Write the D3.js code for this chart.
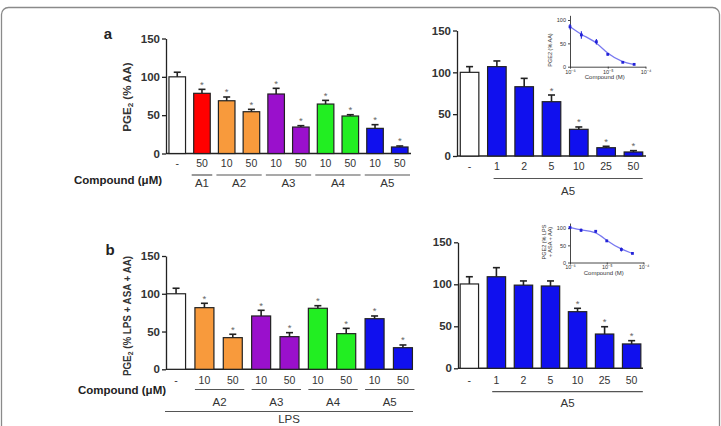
<!DOCTYPE html>
<html>
<head>
<meta charset="utf-8">
<script src="https://cdn.jsdelivr.net/npm/d3@7"></script>
<style>
	body { margin: 0; background: #fff; }
	svg { display: block; font-family: "Liberation Sans", Arial, sans-serif; }
</style>
</head>
<body>
<div id="graphic-wrapper"></div>
<script>
/* global d3 */
const WIDTH = 721
const HEIGHT = 426

// panel a, left: compounds at 10 / 50 uM
const aDoses = ["-", "50", "10", "50", "10", "50", "10", "50", "10", "50"]
const aCompounds = ["ctrl", "A1", "A2", "A2", "A3", "A3", "A4", "A4", "A5", "A5"]
const aValues = [100, 78.5, 68.8, 54.5, 77.6, 34.5, 64.5, 48.9, 32.8, 8.5]
const aErrors = [6, 5.2, 4.9, 3.1, 7.4, 1.8, 4.8, 1.7, 4.8, 1.3]
const aStars = [0, 1, 1, 1, 1, 1, 1, 1, 1, 1]
const aGroups = ["A1", "A2", "A3", "A4", "A5"]

// panel a, right: A5 dose response
const a5Doses = ["-", "1", "2", "5", "10", "25", "50"]
const a5Values = [100, 106.8, 82.8, 64.9, 31.9, 9.9, 4.8]
const a5Errors = [6.8, 6.8, 10, 8, 2.8, 1.7, 1.6]
const a5Stars = [0, 0, 0, 1, 1, 1, 1]

// panel b, left: LPS stimulated
const bDoses = ["-", "10", "50", "10", "50", "10", "50", "10", "50"]
const bCompounds = ["ctrl", "A2", "A2", "A3", "A3", "A4", "A4", "A5", "A5"]
const bValues = [100, 81.6, 41.9, 70.6, 43.2, 80.8, 47.2, 67, 28.6]
const bErrors = [7.3, 5.8, 4.5, 7.5, 5.3, 3.4, 7, 3.6, 3.6]
const bStars = [0, 1, 1, 1, 1, 1, 1, 1, 1]
const bGroups = ["A2", "A3", "A4", "A5"]

// panel b, right: A5 dose response with LPS
const b5Values = [100.4, 109, 99, 98, 67.4, 40.8, 29]
const b5Errors = [8.6, 10.8, 5, 6, 4, 8.7, 3.9]
const b5Stars = [0, 0, 0, 0, 1, 1, 1]

// insets: concentration (M) vs % PGE2
const insetConc = [1e-6, 2e-6, 5e-6, 1e-5, 2.5e-5, 5e-5]
const insetAValues = [85.6, 68, 53.5, 26.5, 9.4, 5]
const insetAErrors = [6, 8, 6, 2.5, 1.5, 1]
const insetBValues = [102, 94, 91, 63, 38, 26.5]
const insetBErrors = [4, 5, 4, 3, 6, 2]
const insetXTicks = [1e-6, 1e-5, 1e-4]
const insetXTickLabels = ["10⁻⁶", "10⁻⁵", "10⁻⁴"]

const colorOf = {
	ctrl: "#ffffff",
	A1: "#ff0000",
	A2: "#f89a3c",
	A3: "#9a10cc",
	A4: "#22ee22",
	A5: "#1010ee",
}

const svg = d3.select("#graphic-wrapper")
	.append("svg")
		.attr("width", WIDTH)
		.attr("height", HEIGHT)

// frame
svg.append("rect")
	.attr("x", 1.5).attr("y", 7.5)
	.attr("width", WIDTH - 3).attr("height", HEIGHT + 20)
	.attr("rx", 7)
	.attr("fill", "none")
	.attr("stroke", "#8a8a8a")
	.attr("stroke-width", 1.3)

function drawBars(cfg) {
	const g = svg.append("g")
	const x = d3.scaleBand()
		.domain(d3.range(cfg.values.length))
		.range([cfg.x0, cfg.x1])
		.paddingInner(cfg.padInner)
		.paddingOuter(cfg.padOuter)
	const y = d3.scaleLinear()
		.domain([0, 150])
		.range([cfg.yBottom, cfg.yTop])

	const yAxis = g.append("g")
		.attr("transform", `translate(${cfg.x0},0)`)
		.call(d3.axisLeft(y).tickValues([0, 50, 100, 150]).tickSize(4).tickSizeOuter(0).tickPadding(2))
	yAxis.selectAll("path, line").attr("stroke", "#222").attr("stroke-width", 1.3)
	yAxis.selectAll("text")
		.attr("font-size", 11.5).attr("font-weight", "bold").attr("fill", "#333")

	// x axis baseline
	g.append("line")
		.attr("x1", cfg.x0).attr("x2", cfg.x1)
		.attr("y1", y(0)).attr("y2", y(0))
		.attr("stroke", "#222").attr("stroke-width", 1.4)

	const bw = x.bandwidth()
	g.selectAll(".bar")
		.data(cfg.values)
		.join("rect")
			.attr("class", "bar")
			.attr("x", (d, i) => x(i))
			.attr("y", d => y(d))
			.attr("width", bw)
			.attr("height", d => y(0) - y(d))
			.attr("fill", (d, i) => colorOf[cfg.colors[i]])
			.attr("stroke", "#222")
			.attr("stroke-width", 1.2)

	// error bars, upper half only
	cfg.values.forEach((v, i) => {
		const cx = x(i) + bw / 2
		const top = y(v + cfg.errors[i])
		g.append("line")
			.attr("x1", cx).attr("x2", cx)
			.attr("y1", y(v)).attr("y2", top)
			.attr("stroke", "#222").attr("stroke-width", 1.6)
		g.append("line")
			.attr("x1", cx - 3.5).attr("x2", cx + 3.5)
			.attr("y1", top).attr("y2", top)
			.attr("stroke", "#222").attr("stroke-width", 1.6)
		if (cfg.stars[i]) {
			g.append("text")
				.attr("x", cx).attr("y", top - 1.5)
				.attr("text-anchor", "middle")
				.attr("font-size", 9.5)
				.attr("fill", "#666")
				.text("*")
		}
		g.append("text")
			.attr("x", cx).attr("y", y(0) + cfg.tickDy)
			.attr("text-anchor", "middle")
			.attr("dominant-baseline", "middle")
			.attr("font-size", 10.5)
			.attr("fill", "#333")
			.text(cfg.doses[i])
	})

	return { x, y, g, bw }
}

function groupLine(g, xa, xb, yLine, label, yLabel) {
	g.append("line")
		.attr("x1", xa).attr("x2", xb)
		.attr("y1", yLine).attr("y2", yLine)
		.attr("stroke", "#555").attr("stroke-width", 1.2)
	if (label) {
		g.append("text")
			.attr("x", (xa + xb) / 2).attr("y", yLabel)
			.attr("text-anchor", "middle")
			.attr("dominant-baseline", "middle")
			.attr("font-size", 11.5)
			.attr("fill", "#333")
			.text(label)
	}
}

function yTitle(cx, cy, rest, size, len) {
	const t = svg.append("text")
		.attr("transform", `translate(${cx},${cy}) rotate(-90)`)
		.attr("text-anchor", "middle")
		.attr("dominant-baseline", "middle")
		.attr("font-size", size)
		.attr("font-weight", "bold")
		.attr("fill", "#333")
	if (len) t.attr("textLength", len).attr("lengthAdjust", "spacingAndGlyphs")
	t.append("tspan").text("PGE")
	t.append("tspan").attr("font-size", size * 0.7).attr("dy", 3).text("2")
	t.append("tspan").attr("dy", -3).text(" " + rest)
}

function plainText(x, y, txt, size, weight, anchor) {
	svg.append("text")
		.attr("x", x).attr("y", y)
		.attr("text-anchor", anchor || "middle")
		.attr("dominant-baseline", "middle")
		.attr("font-size", size)
		.attr("font-weight", weight || "normal")
		.attr("fill", "#222")
		.text(txt)
}

// ---------- panel a, left ----------
const pa = drawBars({
	values: aValues, errors: aErrors, stars: aStars, doses: aDoses, colors: aCompounds,
	x0: 166, x1: 411, yTop: 38.5, yBottom: 153.5, padInner: 0.33, padOuter: 0.12, tickDy: 11,
})
aGroups.forEach(grp => {
	const idx = d3.range(aCompounds.length).filter(i => aCompounds[i] === grp)
	const xa = pa.x(idx[0]) - 2
	const xb = pa.x(idx[idx.length - 1]) + pa.bw + 2
	groupLine(pa.g, xa, xb, 175, grp, 184)
})
yTitle(128, 97, "(% AA)", 11.5)
plainText(118, 181, "Compound (μM)", 11.5, "bold")
plainText(108, 35, "a", 15, "bold")

// ---------- panel a, right ----------
const pa5 = drawBars({
	values: a5Values, errors: a5Errors, stars: a5Stars, doses: a5Doses,
	colors: ["ctrl", "A5", "A5", "A5", "A5", "A5", "A5"],
	x0: 457, x1: 646, yTop: 30.5, yBottom: 156, padInner: 0.32, padOuter: 0.12, tickDy: 11,
})
groupLine(pa5.g, pa5.x(1) + 6, pa5.x(6) + pa5.bw, 178.5, "A5", 192)

// ---------- panel b, left ----------
const pb = drawBars({
	values: bValues, errors: bErrors, stars: bStars, doses: bDoses, colors: bCompounds,
	x0: 166, x1: 413, yTop: 256, yBottom: 369.3, padInner: 0.33, padOuter: 0.02, tickDy: 12,
})
bGroups.forEach(grp => {
	const idx = d3.range(bCompounds.length).filter(i => bCompounds[i] === grp)
	const xa = pb.x(idx[0])
	const xb = pb.x(idx[idx.length - 1]) + pb.bw + 2
	groupLine(pb.g, xa, xb, 389.5, grp, 403)
})
groupLine(pb.g, 165, 413, 411.5, "LPS", 420)
yTitle(128, 316, "(% LPS + ASA + AA)", 11, 120)
plainText(122, 391, "Compound (μM)", 11.5, "bold")
plainText(110, 251, "b", 15, "bold")

// ---------- panel b, right ----------
const pb5 = drawBars({
	values: b5Values, errors: b5Errors, stars: b5Stars, doses: a5Doses,
	colors: ["ctrl", "A5", "A5", "A5", "A5", "A5", "A5"],
	x0: 458, x1: 643, yTop: 242.3, yBottom: 368.3, padInner: 0.32, padOuter: 0.08, tickDy: 12.5,
})
groupLine(pb5.g, pb5.x(1) + 5, pb5.x(6) + pb5.bw + 2, 391.7, "A5", 404)

// ---------- insets ----------
function drawInset(cfg) {
	const g = svg.append("g")
	const x = d3.scaleLog().domain([1e-6, 1e-4]).range([cfg.x0, cfg.x1])
	const y = d3.scaleLinear().domain([0, cfg.yMax]).range([cfg.y0, cfg.y0 - cfg.pxPerUnit * cfg.yMax])

	g.append("g")
		.attr("transform", `translate(0,${cfg.y0})`)
		.call(d3.axisBottom(x).tickValues(insetXTicks).tickFormat((d, i) => insetXTickLabels[i]).tickSize(2).tickSizeOuter(0).tickPadding(1))
	g.append("g")
		.attr("transform", `translate(${cfg.x0},0)`)
		.call(d3.axisLeft(y).tickValues([0, 50, 100]).tickSize(2).tickSizeOuter(0).tickPadding(2))
	g.selectAll(".domain, .tick line").attr("stroke", "#333").attr("stroke-width", 0.9)
	g.selectAll(".tick text").attr("font-size", 5.5).attr("fill", "#333")

	const line = d3.line()
		.x((d, i) => x(insetConc[i]))
		.y(d => y(d))
		.curve(d3.curveBasis)
	g.append("path")
		.datum(cfg.values)
		.attr("d", line)
		.attr("fill", "none")
		.attr("stroke", "#7878f0")
		.attr("stroke-width", 1.3)

	cfg.values.forEach((v, i) => {
		const cx = x(insetConc[i])
		g.append("line")
			.attr("x1", cx).attr("x2", cx)
			.attr("y1", y(v - cfg.errors[i])).attr("y2", y(v + cfg.errors[i]))
			.attr("stroke", "#2323d8").attr("stroke-width", 1.1)
		g.append("rect")
			.attr("x", cx - 1.4).attr("y", y(v) - 1.4)
			.attr("width", 2.8).attr("height", 2.8)
			.attr("fill", "#2323d8")
	})

	g.append("text")
		.attr("x", (cfg.x0 + cfg.x1) / 2 - 3).attr("y", cfg.y0 + 11)
		.attr("text-anchor", "middle").attr("dominant-baseline", "middle")
		.attr("font-size", 6).attr("fill", "#333")
		.text("Compound (M)")

	cfg.titleLines.forEach((txt, k) => {
		g.append("text")
			.attr("transform", `translate(${cfg.titleX + k * 6},${cfg.titleY}) rotate(-90)`)
			.attr("text-anchor", "middle").attr("dominant-baseline", "middle")
			.attr("font-size", 5.5).attr("fill", "#333")
			.text(txt)
	})
}

drawInset({
	values: insetAValues, errors: insetAErrors,
	x0: 570, x1: 645.5, y0: 66.7, pxPerUnit: 0.467, yMax: 110,
	titleLines: ["PGE2 (% AA)"], titleX: 551, titleY: 50,
})
drawInset({
	values: insetBValues, errors: insetBErrors,
	x0: 570, x1: 643.5, y0: 262.5, pxPerUnit: 0.343, yMax: 115,
	titleLines: ["PGE2 (% LPS", "+ ASA + AA)"], titleX: 545, titleY: 242,
})
</script>
</body>
</html>
